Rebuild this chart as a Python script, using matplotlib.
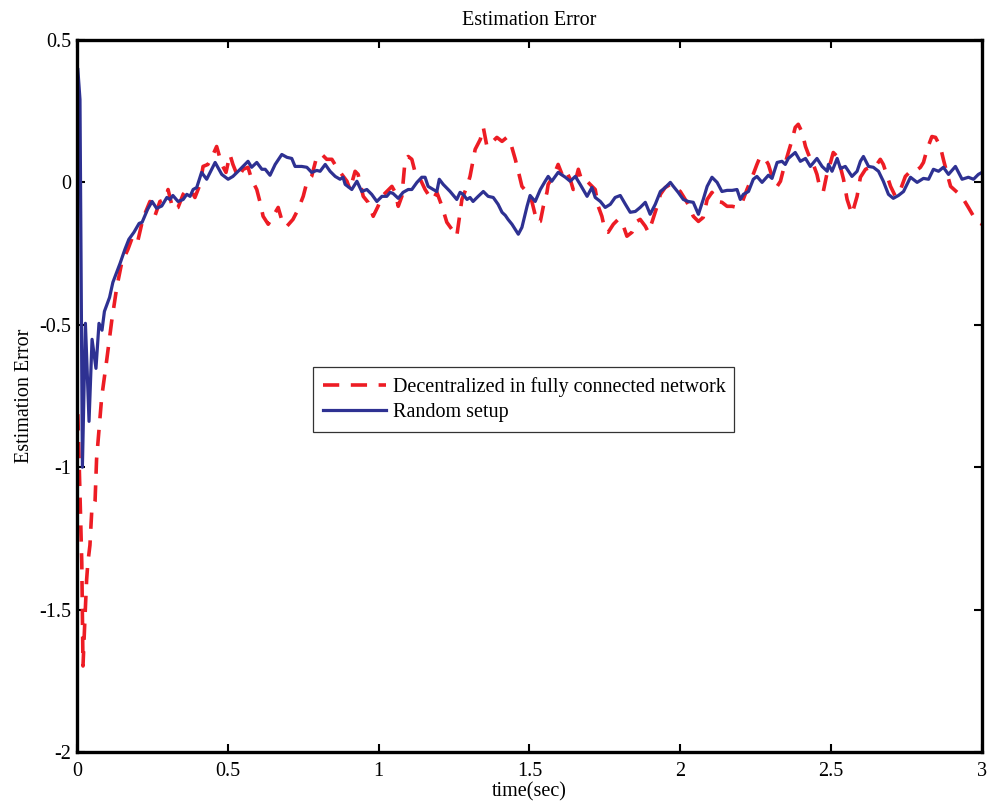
import matplotlib
matplotlib.use("Agg")
import matplotlib.pyplot as plt
import numpy as np

plt.rcParams['font.family'] = ['Liberation Serif', 'DejaVu Serif']

# Random setup (blue, solid)
t_blue = [0.003, 0.010, 0.018, 0.028, 0.040, 0.050, 0.063, 0.073, 0.083, 0.091, 0.108, 0.119,
          0.143, 0.159, 0.172, 0.189, 0.206, 0.216, 0.234, 0.249, 0.264, 0.281, 0.298, 0.308,
          0.318, 0.335, 0.352, 0.364, 0.375, 0.385, 0.397, 0.413, 0.430, 0.458, 0.480, 0.501,
          0.517, 0.541, 0.567, 0.579, 0.596, 0.613, 0.624, 0.640, 0.657, 0.679, 0.696, 0.712,
          0.723, 0.745, 0.762, 0.778, 0.795, 0.806, 0.823, 0.839, 0.856, 0.872, 0.882, 0.889,
          0.911, 0.928, 0.944, 0.961, 0.977, 0.994, 1.011, 1.027, 1.038, 1.048, 1.065, 1.081,
          1.098, 1.110, 1.127, 1.143, 1.154, 1.164, 1.181, 1.193, 1.201, 1.214, 1.237, 1.259,
          1.270, 1.280, 1.293, 1.303, 1.313, 1.330, 1.347, 1.363, 1.380, 1.396, 1.409, 1.420,
          1.429, 1.442, 1.453, 1.463, 1.475, 1.492, 1.502, 1.519, 1.536, 1.552, 1.562, 1.574,
          1.595, 1.619, 1.635, 1.652, 1.668, 1.691, 1.707, 1.718, 1.735, 1.751, 1.768, 1.784,
          1.801, 1.818, 1.834, 1.851, 1.867, 1.884, 1.900, 1.917, 1.934, 1.950, 1.967, 1.977,
          1.993, 2.010, 2.026, 2.043, 2.060, 2.076, 2.089, 2.105, 2.122, 2.138, 2.155, 2.172,
          2.188, 2.199, 2.209, 2.226, 2.242, 2.254, 2.271, 2.292, 2.304, 2.321, 2.337, 2.348,
          2.358, 2.381, 2.398, 2.415, 2.431, 2.453, 2.470, 2.487, 2.491, 2.503, 2.520, 2.531,
          2.547, 2.569, 2.586, 2.597, 2.607, 2.624, 2.640, 2.657, 2.673, 2.690, 2.706, 2.723,
          2.740, 2.763, 2.785, 2.806, 2.823, 2.839, 2.856, 2.872, 2.889, 2.912, 2.934, 2.955,
          2.972, 2.988, 3.000]
e_blue = [0.396, 0.291, -1.000, -0.495, -0.839, -0.551, -0.653, -0.495, -0.519, -0.453, -0.404, -0.351,
          -0.284, -0.235, -0.200, -0.175, -0.144, -0.140, -0.095, -0.067, -0.091, -0.083, -0.053, -0.060,
          -0.046, -0.067, -0.060, -0.042, -0.049, -0.025, -0.018, 0.035, 0.011, 0.070, 0.028, 0.011,
          0.021, 0.046, 0.074, 0.053, 0.070, 0.046, 0.046, 0.025, 0.063, 0.098, 0.088, 0.084,
          0.056, 0.056, 0.053, 0.035, 0.042, 0.039, 0.063, 0.039, 0.021, 0.011, 0.018, -0.007,
          -0.025, 0.004, -0.032, -0.025, -0.042, -0.067, -0.049, -0.049, -0.035, -0.039, -0.056, -0.035,
          -0.025, -0.025, 0.000, 0.018, 0.018, -0.014, -0.025, -0.032, 0.011, -0.007, -0.032, -0.060,
          -0.035, -0.042, -0.060, -0.053, -0.067, -0.049, -0.032, -0.049, -0.053, -0.077, -0.105, -0.116,
          -0.130, -0.147, -0.165, -0.182, -0.158, -0.084, -0.046, -0.067, -0.025, 0.004, 0.021, 0.004,
          0.035, 0.018, 0.004, 0.021, -0.007, -0.049, -0.018, -0.053, -0.067, -0.088, -0.077, -0.053,
          -0.046, -0.077, -0.105, -0.102, -0.088, -0.070, -0.112, -0.077, -0.032, -0.018, 0.000, -0.014,
          -0.035, -0.060, -0.067, -0.070, -0.112, -0.060, -0.014, 0.018, 0.000, -0.032, -0.028, -0.028,
          -0.025, -0.060, -0.042, -0.032, 0.011, 0.021, 0.000, 0.025, 0.014, 0.070, 0.074, 0.063,
          0.084, 0.105, 0.074, 0.084, 0.056, 0.084, 0.056, 0.039, 0.063, 0.039, 0.084, 0.049,
          0.056, 0.021, 0.039, 0.074, 0.091, 0.056, 0.053, 0.039, 0.004, -0.042, -0.056, -0.046,
          -0.032, 0.018, 0.000, 0.014, 0.011, 0.046, 0.039, 0.053, 0.028, 0.056, 0.011, 0.018,
          0.011, 0.028, 0.035]

# Decentralized in fully connected network (red, dashed)
t_red = [0.003, 0.010, 0.016, 0.020, 0.027, 0.032, 0.036, 0.043, 0.049, 0.060, 0.065, 0.082,
         0.099, 0.115, 0.132, 0.148, 0.169, 0.186, 0.202, 0.219, 0.242, 0.259, 0.275, 0.292,
         0.302, 0.318, 0.335, 0.352, 0.364, 0.380, 0.391, 0.408, 0.418, 0.434, 0.447, 0.463,
         0.480, 0.494, 0.507, 0.517, 0.534, 0.551, 0.567, 0.579, 0.596, 0.607, 0.617, 0.634,
         0.650, 0.667, 0.683, 0.696, 0.716, 0.733, 0.750, 0.762, 0.778, 0.795, 0.812, 0.828,
         0.845, 0.861, 0.878, 0.895, 0.905, 0.922, 0.932, 0.949, 0.965, 0.982, 0.998, 1.011,
         1.027, 1.044, 1.055, 1.065, 1.077, 1.088, 1.098, 1.110, 1.121, 1.138, 1.154, 1.171,
         1.181, 1.193, 1.210, 1.226, 1.243, 1.259, 1.276, 1.293, 1.303, 1.320, 1.337, 1.347,
         1.359, 1.375, 1.392, 1.409, 1.425, 1.436, 1.453, 1.463, 1.475, 1.492, 1.508, 1.525,
         1.536, 1.546, 1.558, 1.562, 1.579, 1.595, 1.608, 1.619, 1.635, 1.645, 1.662, 1.674,
         1.691, 1.701, 1.718, 1.728, 1.740, 1.751, 1.761, 1.778, 1.794, 1.807, 1.823, 1.840,
         1.856, 1.867, 1.884, 1.894, 1.906, 1.923, 1.934, 1.950, 1.967, 1.983, 2.000, 2.010,
         2.026, 2.043, 2.060, 2.076, 2.089, 2.105, 2.122, 2.138, 2.155, 2.172, 2.188, 2.205,
         2.221, 2.238, 2.254, 2.265, 2.282, 2.292, 2.304, 2.321, 2.332, 2.342, 2.358, 2.371,
         2.381, 2.391, 2.404, 2.415, 2.425, 2.441, 2.453, 2.464, 2.474, 2.487, 2.498, 2.507,
         2.520, 2.531, 2.541, 2.553, 2.569, 2.586, 2.597, 2.614, 2.630, 2.647, 2.663, 2.673,
         2.686, 2.697, 2.713, 2.730, 2.746, 2.763, 2.779, 2.796, 2.806, 2.818, 2.834, 2.846,
         2.862, 2.872, 2.885, 2.896, 2.918, 2.939, 2.955, 2.972, 2.988, 3.000]
e_red = [-0.814, -1.095, -1.337, -1.698, -1.516, -1.396, -1.337, -1.274, -1.154, -1.119, -0.972, -0.754,
         -0.621, -0.488, -0.368, -0.284, -0.235, -0.186, -0.204, -0.126, -0.067, -0.116, -0.067, -0.060,
         -0.025, -0.095, -0.088, -0.042, -0.025, -0.032, -0.053, -0.007, 0.056, 0.063, 0.088, 0.126,
         0.063, 0.035, 0.098, 0.063, 0.018, 0.046, 0.053, 0.011, -0.025, -0.070, -0.119, -0.147,
         -0.119, -0.088, -0.147, -0.154, -0.130, -0.095, -0.049, 0.000, 0.021, 0.091, 0.098, 0.081,
         0.081, 0.053, 0.028, 0.004, -0.025, 0.039, 0.028, -0.049, -0.070, -0.119, -0.084, -0.049,
         -0.032, -0.014, -0.035, -0.084, -0.049, 0.081, 0.091, 0.081, 0.035, 0.011, -0.025, -0.053,
         -0.060, -0.035, -0.084, -0.140, -0.165, -0.189, -0.060, -0.014, 0.021, 0.116, 0.151, 0.193,
         0.126, 0.140, 0.158, 0.144, 0.158, 0.144, 0.081, 0.039, -0.014, -0.035, -0.067, -0.140,
         -0.137, -0.084, -0.035, -0.007, 0.021, 0.063, 0.028, 0.046, 0.011, -0.025, 0.046, 0.004,
         0.004, -0.007, -0.025, -0.084, -0.119, -0.172, -0.175, -0.147, -0.130, -0.140, -0.189, -0.175,
         -0.137, -0.130, -0.154, -0.175, -0.140, -0.084, -0.042, -0.018, -0.007, -0.018, -0.032, -0.049,
         -0.077, -0.119, -0.137, -0.123, -0.060, -0.035, -0.067, -0.070, -0.084, -0.084, -0.088, -0.070,
         -0.025, 0.018, 0.063, 0.091, 0.081, 0.063, 0.021, -0.014, 0.004, 0.046, 0.105, 0.151,
         0.193, 0.204, 0.175, 0.126, 0.098, 0.063, 0.028, -0.025, -0.032, 0.035, 0.070, 0.105,
         0.091, 0.053, 0.011, -0.060, -0.112, -0.049, 0.018, 0.046, 0.053, 0.056, 0.081, 0.063,
         0.021, -0.014, -0.049, -0.025, 0.021, 0.039, 0.039, 0.053, 0.070, 0.116, 0.161, 0.158,
         0.126, 0.081, 0.028, -0.014, -0.035, -0.060, -0.088, -0.119, -0.140, -0.147]

xticks = [0, 0.5, 1, 1.5, 2, 2.5, 3]
xtick_labels = ['0', '0.5', '1', '1.5', '2', '2.5', '3']
yticks = [-2, -1.5, -1, -0.5, 0, 0.5]
ytick_labels = ['-2', '-1.5', '-1', '-0.5', '0', '0.5']

FS = 14.5

fig = plt.figure(figsize=(9.88, 8.06), dpi=100)
ax = fig.add_axes([0.0779, 0.067, 0.9160, 0.8834])

ax.plot(t_red, e_red, color='#ED1C24', linewidth=2.6, linestyle=(0, (4.5, 3.2)),
        label='Decentralized in fully connected network')
ax.plot(t_blue, e_blue, color='#2E3192', linewidth=2.3,
        label='Random setup')

ax.set_xlim(0, 3)
ax.set_ylim(-2, 0.5)
ax.set_xticks(xticks)
ax.set_xticklabels(xtick_labels)
ax.set_yticks(yticks)
ax.set_yticklabels(ytick_labels)
ax.tick_params(direction='in', length=6, width=1.5, top=True, right=True,
               labelsize=FS, colors='black')
ax.tick_params(axis='x', pad=7)
ax.tick_params(axis='y', pad=4)
for s in ax.spines.values():
    s.set_linewidth(2.4)
    s.set_color('black')

ax.set_title('Estimation Error', fontsize=FS, pad=11)
ax.set_xlabel('time(sec)', fontsize=FS, labelpad=1)
ax.set_ylabel('Estimation Error', fontsize=FS, labelpad=4)

leg = ax.legend(loc='lower left', bbox_to_anchor=(0.261, 0.449, 0.4652, 0.099),
                mode='expand', fontsize=FS, frameon=True, fancybox=False,
                handlelength=3.1, borderaxespad=0, borderpad=0.5, labelspacing=0.3,
                handletextpad=0.35)
leg.get_frame().set_edgecolor('black')
leg.get_frame().set_linewidth(0.9)

fig.savefig('out.png', dpi=100)
